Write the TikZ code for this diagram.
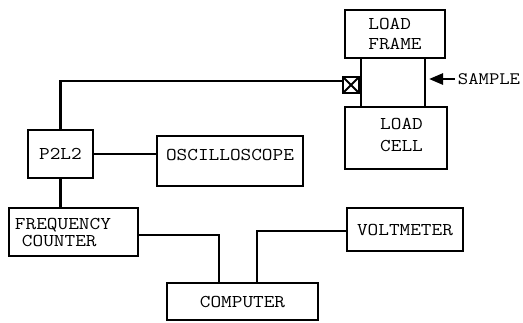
\documentclass[tikz,border=0pt]{standalone}
\usepackage{fontspec}
\setmonofont{Latin Modern Mono}[FakeStretch=1.15]
\usetikzlibrary{calc,arrows.meta}

\begin{document}
\begin{tikzpicture}[
  x=1pt, y=-1pt,
  unit box/.style={draw, line width=2.2pt, inner sep=0pt, font=\ttfamily\fontsize{18}{20}\selectfont},
  tag/.style={inner sep=0pt, font=\ttfamily\fontsize{17.5}{20}\selectfont},
  wire/.style={line width=2.6pt},
  thin wire/.style={line width=1.7pt},
  cross box/.style={draw, line width=2pt, minimum size=16pt, inner sep=0pt,
    path picture={\draw[line width=2pt] (path picture bounding box.south west) -- (path picture bounding box.north east)
      (path picture bounding box.north west) -- (path picture bounding box.south east);}},
]
\useasboundingbox (0,0) rectangle (523,322);

% load frame, sample and load cell
\node[unit box, minimum width=100pt, minimum height=48pt, align=left] (frame) at (395,34) {LOAD\\FRAME};
\node[unit box, minimum width=102pt, minimum height=62pt, align=left, text depth=6pt] (cell) at (396,138) {\hspace*{11pt}LOAD\\[2pt]\hspace*{11pt}CELL};
\draw[wire] ($(frame.south west)+(17,0)$) -- ($(cell.north west)+(17,0)$);
\draw[wire] ($(frame.south west)+(81,0)$) -- ($(cell.north west)+(81,0)$);
\node[cross box] (sq) at (351,85) {};
\node[tag] (smp) at (489,79) {SAMPLE};
\coordinate (tip) at (429,79);
\draw[wire, -{Triangle[length=14pt,width=11pt]}, shorten <=3pt] (smp.west) -- (tip);

% instruments
\node[unit box, minimum width=65pt, minimum height=48pt] (p2l2) at (60.5,154) {P2L2};
\node[unit box, minimum width=146pt, minimum height=50pt, text depth=12pt] (osc) at (230,161) {OSCILLOSCOPE};
\node[unit box, minimum width=129pt, minimum height=48pt, align=left, text width=117pt] (freq) at (73.5,232) {FREQUENCY\\[-3pt]\hspace*{7pt}COUNTER};
\node[unit box, minimum width=151pt, minimum height=37pt] (comp) at (242.5,301.5) {COMPUTER};
\node[unit box, minimum width=116pt, minimum height=43pt] (volt) at (405,229.5) {VOLTMETER};

% connections
\draw[wire] ([yshift=4pt]sq.west) -| (p2l2.north);
\draw[wire] (p2l2.east) -- (p2l2.east -| osc.west);
\draw[wire] (p2l2.south) -- (p2l2.south |- freq.north);
\draw[thin wire] ([yshift=-3pt]freq.east) -| ($(comp.north west)+(53,0)$);
\draw[wire] ([yshift=-1.5pt]volt.west) -| ($(comp.north west)+(91,0)$);
\end{tikzpicture}
\end{document}
